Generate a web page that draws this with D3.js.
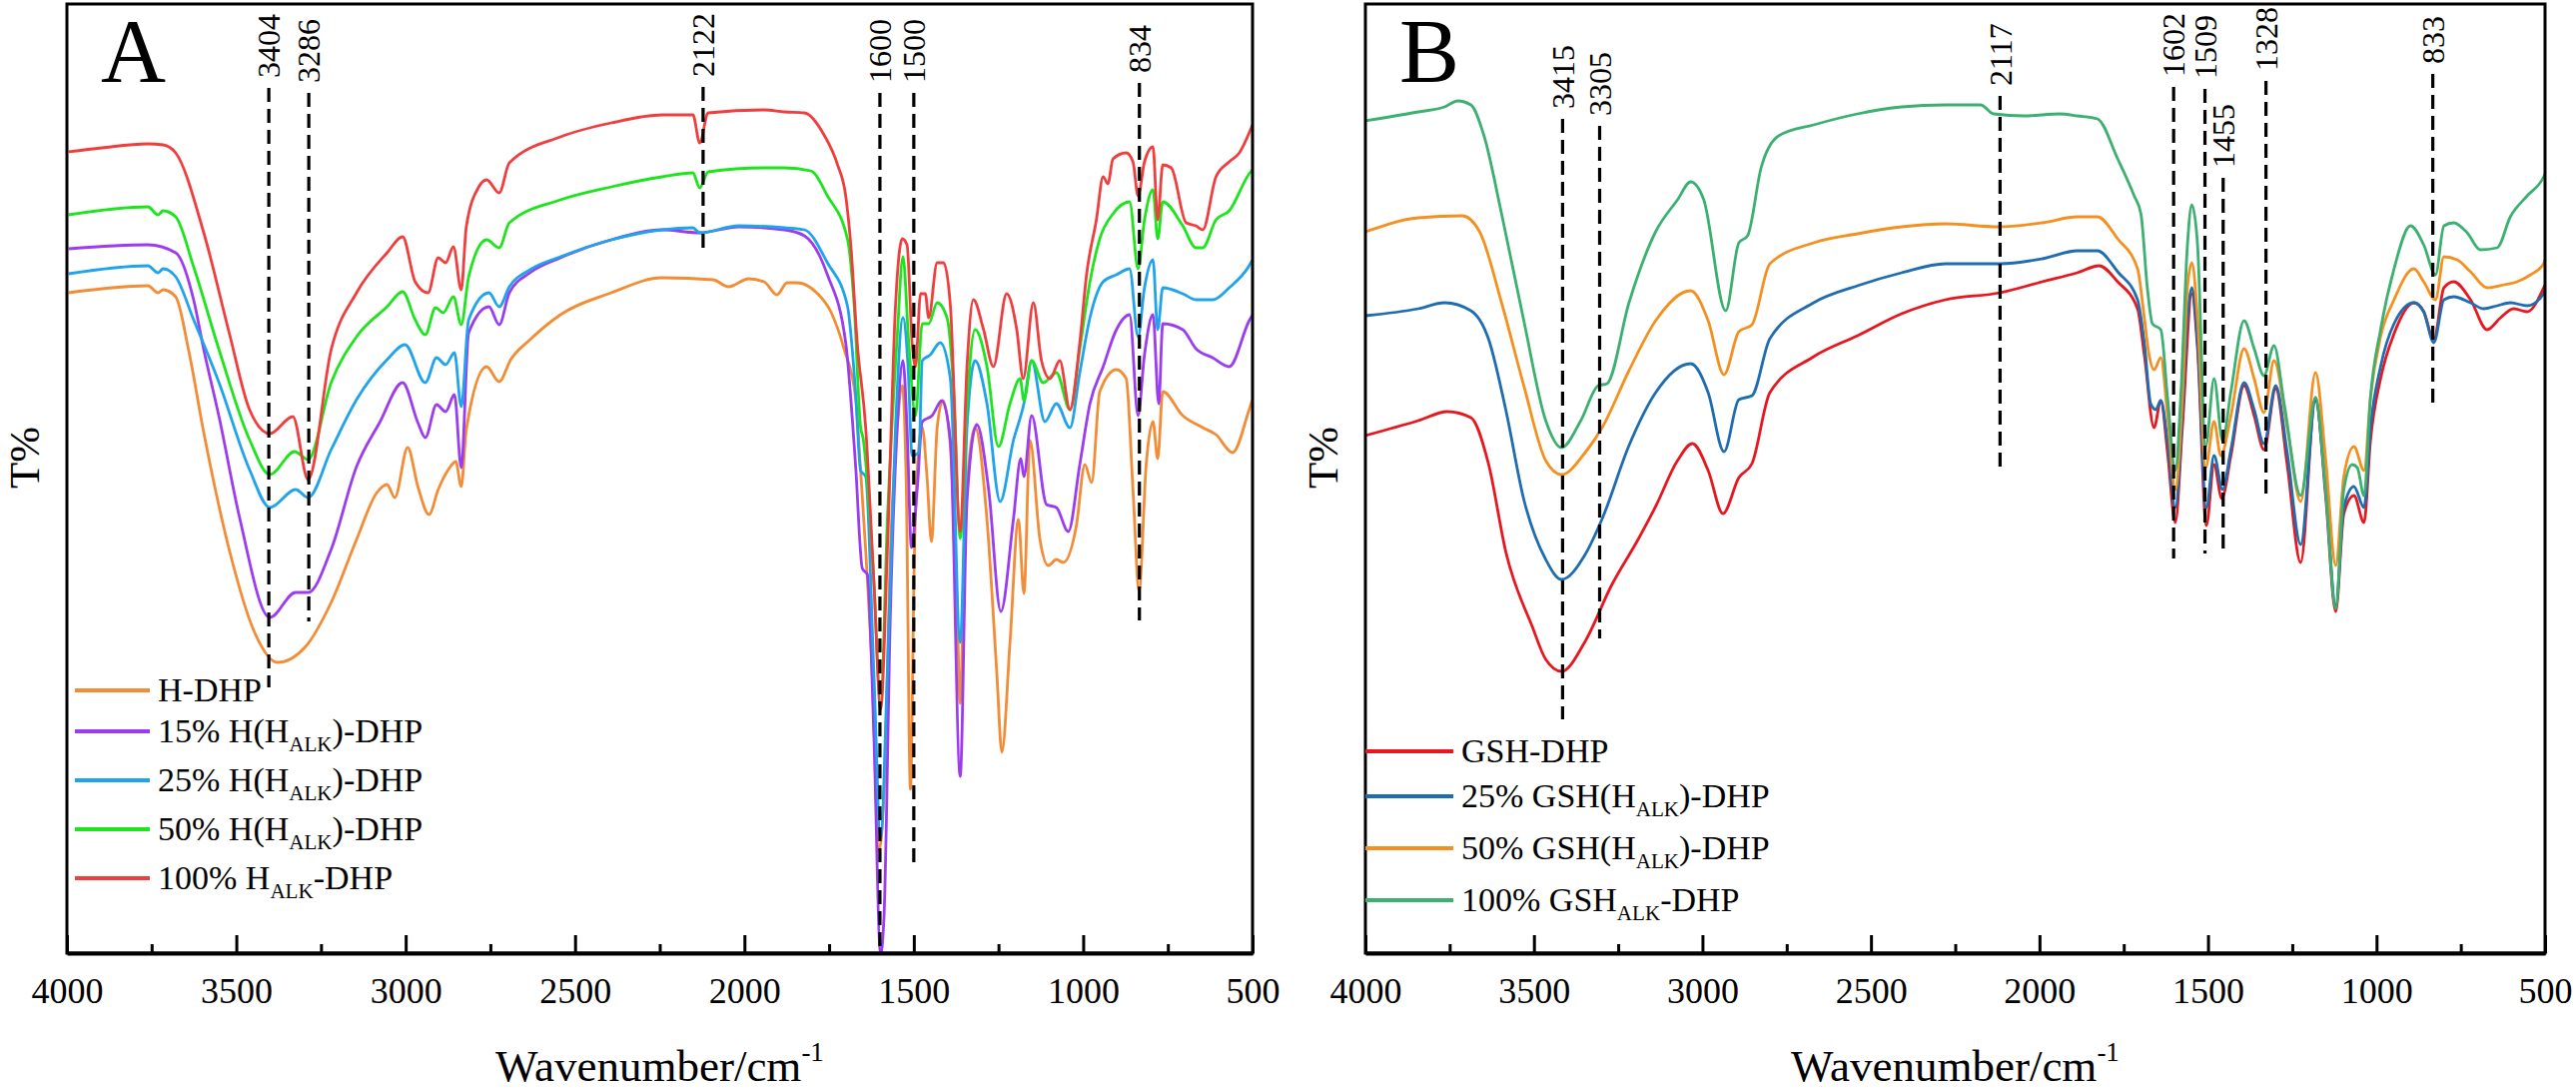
<!DOCTYPE html>
<html>
<head>
<meta charset="utf-8">
<script src="https://cdn.jsdelivr.net/npm/d3@7"></script>
<style>
  body { margin: 0; background: #fff; }
  svg { display: block; }
  text { font-family: "Liberation Serif", "Times New Roman", serif; fill: #000; }
</style>
</head>
<body>
<svg id="chart" width="2579" height="1093"></svg>
<script>
// ---- axis ticks (wavenumber, cm-1) ----
var majorTicks = [4000, 3500, 3000, 2500, 2000, 1500, 1000, 500];
var minorTicks = [3750, 3250, 2750, 2250, 1750, 1250, 750];

// ---- panel A spectra: [wavenumber, T%] ----
var hDHP = [[3995,70.7],[3761,71.4],[3731,70.7],[3716,71.0],[3679,70.3],[3641,65.0],[3596,56.7],[3521,45.0],[3446,36.7],[3378,33.7],[3295,35.3],[3220,39.7],[3145,46.0],[3085,50.7],[3055,51.5],[3032,50.2],[2994,55.2],[2964,51.3],[2931,48.5],[2904,51.0],[2874,53.0],[2852,53.8],[2836,51.3],[2821,57.0],[2761,63.3],[2724,61.8],[2690,64.0],[2633,66.0],[2543,68.5],[2393,70.7],[2243,72.2],[2092,72.0],[2047,71.3],[1987,72.1],[1942,71.8],[1904,70.5],[1874,71.7],[1843,71.7],[1784,70.6],[1745,68.8],[1706,65.1],[1672,60.2],[1657,52.9],[1642,44.9],[1623,32.7],[1603,14.9],[1588,20.4],[1569,44.9],[1549,57.2],[1534,61.4],[1522,51.0],[1510,21.0],[1498,44.9],[1485,55.3],[1475,57.2],[1461,52.3],[1448,45.8],[1431,57.2],[1414,59.9],[1392,55.3],[1372,38.8],[1363,29.6],[1348,48.0],[1319,57.2],[1284,48.0],[1255,32.7],[1240,24.7],[1216,35.7],[1191,48.0],[1175,40.6],[1157,55.9],[1128,46.1],[1103,43.4],[1079,44.0],[1059,43.7],[1020,47.4],[995,53.5],[975,51.7],[951,60.8],[902,63.0],[873,62.1],[853,51.0],[835,40.9],[814,53.5],[794,57.8],[780,54.1],[765,60.8],[706,58.4],[647,57.2],[608,56.5],[559,54.7],[510,59.0],[500,60.0]];
var h15 = [[3995,75.1],[3761,75.5],[3679,74.7],[3626,70.0],[3596,65.0],[3551,58.3],[3491,48.3],[3401,38.2],[3325,40.7],[3288,40.7],[3220,45.0],[3145,53.3],[3077,57.7],[3009,61.7],[2964,57.7],[2942,56.2],[2909,59.5],[2882,58.8],[2856,60.5],[2836,53.2],[2814,66.7],[2754,69.3],[2724,67.5],[2694,70.7],[2633,72.7],[2543,74.2],[2393,76.0],[2243,77.0],[2132,76.7],[2017,77.3],[1882,77.0],[1823,76.4],[1755,72.5],[1701,65.7],[1672,53.5],[1652,43.1],[1637,42.5],[1618,26.6],[1598,4.5],[1588,8.2],[1569,38.8],[1549,57.2],[1532,63.9],[1520,57.2],[1507,45.2],[1490,51.0],[1475,57.8],[1446,58.4],[1417,59.9],[1392,55.9],[1363,22.3],[1343,49.8],[1314,57.5],[1279,51.0],[1243,38.8],[1206,48.0],[1184,54.1],[1175,52.3],[1152,58.4],[1108,49.5],[1079,49.2],[1044,46.8],[1010,53.5],[980,59.6],[941,63.3],[902,67.0],[863,68.5],[838,58.4],[819,64.5],[794,68.5],[777,59.6],[765,67.6],[706,67.0],[667,65.1],[618,64.2],[569,63.3],[510,67.9],[500,68.5]];
var h25 = [[3995,72.6],[3761,73.4],[3731,72.7],[3716,73.1],[3679,72.3],[3626,68.0],[3551,61.7],[3461,53.0],[3401,49.2],[3325,51.0],[3288,50.2],[3220,55.0],[3145,60.0],[3055,64.0],[3002,65.5],[2942,61.7],[2909,64.2],[2882,63.5],[2856,64.7],[2836,59.3],[2814,68.0],[2754,70.7],[2724,69.3],[2694,71.3],[2633,73.0],[2543,74.3],[2393,76.0],[2243,77.0],[2152,77.2],[2132,76.7],[2017,77.4],[1882,77.2],[1823,77.0],[1755,73.7],[1696,69.4],[1672,60.8],[1657,52.9],[1642,52.3],[1618,32.7],[1598,16.2],[1578,32.7],[1554,57.2],[1532,68.2],[1517,63.3],[1505,54.4],[1485,54.7],[1475,63.9],[1451,64.5],[1422,65.7],[1392,62.1],[1363,35.7],[1343,57.2],[1319,63.9],[1284,59.6],[1245,49.8],[1206,55.9],[1175,59.6],[1152,63.9],[1113,57.8],[1079,59.6],[1039,57.2],[1010,62.7],[980,68.2],[941,71.8],[902,72.5],[863,73.1],[838,66.3],[819,71.2],[794,74.0],[780,67.0],[765,71.2],[706,70.6],[667,70.0],[618,70.0],[569,71.2],[510,73.4],[500,74.0]];
var h50 = [[3995,78.5],[3761,79.3],[3731,78.5],[3716,78.9],[3679,78.3],[3626,73.3],[3551,65.0],[3461,56.0],[3401,52.5],[3328,54.8],[3288,54.0],[3220,61.7],[3145,66.3],[3055,69.3],[3009,70.8],[2972,68.0],[2942,66.5],[2912,69.2],[2889,68.7],[2859,70.3],[2836,67.5],[2814,72.3],[2761,76.0],[2724,75.2],[2694,77.7],[2543,80.0],[2393,81.3],[2243,82.3],[2152,82.7],[2132,81.2],[2107,82.8],[1942,83.2],[1882,83.2],[1804,82.9],[1755,80.4],[1696,76.1],[1676,69.4],[1657,57.2],[1650,56.2],[1618,41.9],[1598,29.6],[1578,48.0],[1549,66.3],[1532,74.3],[1515,65.7],[1495,58.4],[1475,67.6],[1456,67.6],[1431,69.7],[1402,68.2],[1382,60.8],[1363,46.1],[1343,59.6],[1319,67.0],[1284,63.3],[1250,55.3],[1216,59.6],[1186,62.1],[1175,59.9],[1152,63.9],[1118,61.7],[1079,62.7],[1039,59.0],[1010,65.1],[980,71.8],[951,76.1],[912,78.6],[863,79.8],[838,73.1],[819,78.0],[794,81.0],[780,76.1],[765,79.8],[706,77.4],[667,75.2],[647,75.2],[608,78.0],[569,78.9],[510,82.6],[500,83.0]];
var h100 = [[3995,84.8],[3897,85.2],[3761,85.6],[3716,85.5],[3679,84.7],[3596,76.7],[3521,66.7],[3461,59.0],[3401,56.6],[3333,58.3],[3288,52.0],[3220,65.0],[3145,70.7],[3055,74.7],[3009,76.3],[2972,71.8],[2934,70.7],[2904,74.2],[2882,73.7],[2859,75.3],[2836,71.0],[2821,77.3],[2784,81.3],[2761,82.0],[2724,80.7],[2694,83.7],[2543,86.3],[2393,87.7],[2243,88.5],[2152,88.5],[2132,85.7],[2107,88.7],[1942,89.0],[1882,88.8],[1823,88.7],[1765,86.5],[1725,83.5],[1701,80.4],[1686,75.5],[1667,65.7],[1642,57.2],[1618,41.9],[1598,29.0],[1578,44.9],[1554,69.4],[1534,76.1],[1520,75.5],[1505,65.7],[1495,63.3],[1480,70.6],[1466,70.6],[1456,68.2],[1431,73.7],[1412,73.7],[1392,69.4],[1363,46.8],[1343,63.3],[1324,70.0],[1294,67.0],[1265,63.3],[1226,70.6],[1196,67.0],[1177,62.1],[1147,69.7],[1123,63.9],[1098,62.1],[1069,63.9],[1039,59.0],[1010,65.7],[990,72.5],[961,78.0],[941,82.3],[927,81.6],[912,84.1],[873,84.7],[853,83.8],[838,80.4],[819,83.8],[794,85.3],[780,78.0],[765,83.5],[740,83.2],[696,77.7],[667,77.4],[647,77.0],[608,82.3],[569,83.8],[539,84.7],[505,87.1],[500,87.5]];

// ---- panel B spectra: [wavenumber, T%] ----
var gshDHP = [[4000,56.4],[3843,57.9],[3757,58.8],[3687,58.2],[3635,53.6],[3583,44.7],[3504,37.2],[3465,34.0],[3418,32.8],[3348,35.8],[3270,41.4],[3191,46.0],[3139,49.3],[3074,53.9],[3030,55.6],[2983,52.9],[2939,48.6],[2892,52.2],[2853,53.6],[2800,60.7],[2670,64.3],[2540,66.4],[2409,68.6],[2279,70.0],[2117,70.7],[1992,71.8],[1888,72.7],[1823,73.4],[1768,71.8],[1709,69.1],[1689,64.5],[1660,57.2],[1640,59.9],[1620,54.7],[1597,47.7],[1576,57.2],[1548,70.6],[1531,65.1],[1505,47.4],[1482,53.5],[1459,50.1],[1432,54.4],[1393,61.4],[1363,58.4],[1334,55.0],[1299,61.1],[1265,53.5],[1225,43.7],[1181,60.2],[1151,50.4],[1121,38.8],[1097,48.6],[1067,50.4],[1037,47.7],[1018,55.9],[988,62.1],[948,66.6],[889,69.7],[860,68.8],[830,66.0],[800,71.2],[771,71.8],[721,70.0],[672,67.0],[632,68.2],[593,69.1],[553,68.8],[504,71.2],[500,71.5]];
var gsh25 = [[4000,68.4],[3843,69.1],[3765,69.7],[3687,68.9],[3635,66.1],[3583,58.9],[3530,50.0],[3465,44.0],[3418,42.0],[3348,44.5],[3296,48.2],[3218,55.4],[3139,60.7],[3035,63.6],[2983,60.7],[2936,54.8],[2892,60.0],[2853,60.4],[2800,66.1],[2670,69.7],[2540,71.4],[2409,72.7],[2279,73.6],[2117,73.6],[1992,74.1],[1887,74.9],[1828,74.9],[1768,72.8],[1709,70.0],[1689,65.7],[1670,59.6],[1655,59.0],[1640,59.9],[1620,55.9],[1597,49.2],[1576,58.4],[1561,68.2],[1548,71.2],[1531,65.7],[1505,49.2],[1482,54.4],[1457,51.0],[1432,55.0],[1393,61.7],[1363,59.0],[1334,55.6],[1299,61.4],[1265,54.7],[1225,45.5],[1181,59.9],[1151,51.0],[1121,39.4],[1097,49.2],[1067,51.3],[1037,49.2],[1018,57.2],[988,63.3],[948,67.6],[889,69.7],[860,68.8],[830,65.7],[800,70.0],[771,70.3],[721,69.7],[682,69.1],[642,69.4],[603,69.7],[553,69.4],[504,70.6],[500,71.0]];
var gsh50 = [[4000,76.8],[3843,78.2],[3713,78.4],[3661,76.8],[3596,69.7],[3530,61.4],[3465,53.9],[3418,52.5],[3348,54.7],[3296,57.3],[3218,62.9],[3139,67.9],[3035,70.9],[2983,67.9],[2936,62.5],[2892,66.8],[2853,67.5],[2800,73.6],[2670,75.7],[2540,76.6],[2409,77.3],[2279,77.6],[2123,77.3],[1992,77.7],[1887,78.3],[1828,78.3],[1768,76.1],[1709,73.1],[1689,68.2],[1675,64.5],[1660,63.0],[1640,64.2],[1620,58.4],[1597,51.0],[1576,60.2],[1561,71.2],[1548,73.7],[1531,68.2],[1507,53.2],[1482,57.8],[1462,54.4],[1432,58.4],[1393,65.1],[1363,62.1],[1334,58.7],[1304,63.9],[1265,57.2],[1225,49.8],[1181,62.7],[1151,54.1],[1121,43.4],[1097,52.3],[1067,55.3],[1037,52.9],[1018,60.2],[988,66.3],[948,70.0],[889,73.1],[860,71.8],[825,70.0],[800,74.3],[761,74.0],[721,72.8],[672,71.2],[622,71.5],[583,71.8],[543,72.5],[504,73.6],[500,74.0]];
var gsh100 = [[4000,87.9],[3843,88.8],[3765,89.3],[3726,89.9],[3687,89.5],[3648,86.4],[3596,78.6],[3530,67.9],[3465,57.9],[3418,55.2],[3361,57.9],[3309,61.4],[3283,61.6],[3218,69.7],[3139,76.8],[3074,80.0],[3035,81.8],[2996,80.0],[2931,68.9],[2892,75.7],[2866,76.4],[2826,83.2],[2774,86.4],[2670,87.5],[2540,88.6],[2409,89.3],[2279,89.5],[2175,89.5],[2136,88.6],[2044,88.4],[1940,88.6],[1887,88.4],[1828,88.1],[1768,84.1],[1719,80.4],[1699,78.6],[1680,71.2],[1665,67.6],[1640,67.0],[1620,60.2],[1597,52.9],[1581,60.2],[1561,75.5],[1548,79.5],[1531,75.5],[1507,55.3],[1482,62.1],[1457,55.9],[1432,60.8],[1393,67.9],[1363,65.1],[1334,62.4],[1304,65.4],[1274,59.6],[1225,50.4],[1181,60.2],[1151,51.0],[1121,39.1],[1097,51.0],[1072,53.5],[1057,53.2],[1037,50.4],[1018,60.2],[988,67.0],[948,73.1],[899,77.4],[860,75.5],[825,72.5],[800,77.4],[771,77.7],[731,76.7],[692,75.0],[642,75.2],[603,78.3],[553,80.4],[504,82.3],[500,82.6]];

// ---- series names (subscript marked with _{ }) and colours ----
var namesA = ["H-DHP", "15% H(H_{ALK})-DHP", "25% H(H_{ALK})-DHP", "50% H(H_{ALK})-DHP", "100% H_{ALK}-DHP"];
var colorsA = ["#f28c36", "#9b3cf0", "#1ea3ec", "#1ee41e", "#f03e3e"];
var namesB = ["GSH-DHP", "25% GSH(H_{ALK})-DHP", "50% GSH(H_{ALK})-DHP", "100% GSH_{ALK}-DHP"];
var colorsB = ["#e8161e", "#1f6db0", "#f39020", "#3cb070"];

// ---- marked bands: wavenumber, where the dashed line ends (T%), where its label starts (T%) ----
var peaksA = [3404, 3286, 2122, 1600, 1500, 834];
var peakEndA = [31.2, 37.8, 74.7, 4.6, 13.4, 37.9];
var peakLabelA = [92.2, 91.7, 92.3, 91.7, 91.7, 92.7];
var peaksB = [3415, 3305, 2117, 1602, 1509, 1455, 1328, 833];
var peakEndB = [28.0, 36.1, 52.9, 44.1, 44.6, 44.9, 50.4, 59.0];
var peakLabelB = [89.1, 88.4, 91.4, 92.3, 92.1, 83.2, 92.9, 93.6];

var svg = d3.select("#chart");
var plotTop = 4, plotBottom = 954;

var panels = [
  { id: "A", left: 67, right: 1254, data: [hDHP, h15, h25, h50, h100], names: namesA, colors: colorsA,
    peaks: peaksA, peakEnd: peakEndA, peakLabel: peakLabelA,
    legendX: 75, legendLen: 75, legendRows: [691, 732, 781, 830, 879] },
  { id: "B", left: 1367, right: 2548, data: [gshDHP, gsh25, gsh50, gsh100], names: namesB, colors: colorsB,
    peaks: peaksB, peakEnd: peakEndB, peakLabel: peakLabelB,
    legendX: 1367, legendLen: 88, legendRows: [752, 797, 849, 901] }
];

// writes "text_{sub}text" into a text element with a lowered, smaller subscript
function richText(sel, str, size) {
  var parts = str.split(/_\{([^}]*)\}/);
  parts.forEach(function(p, i) {
    if (!p) return;
    if (i % 2 == 1) {
      sel.append("tspan").attr("font-size", size * 0.62).attr("dy", 9).text(p);
    } else {
      sel.append("tspan").attr("dy", i > 0 ? -9 : 0).text(p);
    }
  });
}

panels.forEach(function(p, pi) {
  var x = d3.scaleLinear().domain([4000, 500]).range([p.left, p.right]);
  var y = d3.scaleLinear().domain([4.6, 99.6]).range([plotBottom, plotTop]);
  var g = svg.append("g").attr("class", "panel-" + p.id);

  g.append("clipPath").attr("id", "clip" + pi)
    .append("rect").attr("x", p.left).attr("y", plotTop).attr("width", p.right - p.left).attr("height", plotBottom - plotTop);

  var line = d3.line()
    .x(function(d) { return x(d[0]); })
    .y(function(d) { return y(d[1]); })
    .curve(d3.curveMonotoneX);

  g.append("g").attr("clip-path", "url(#clip" + pi + ")")
    .selectAll("path")
    .data(p.data)
    .enter().append("path")
    .attr("d", line)
    .attr("fill", "none")
    .attr("stroke", function(d, i) { return p.colors[i]; })
    .attr("stroke-width", 2.8)
    .attr("stroke-linejoin", "round");

  // dashed band markers
  var pk = g.append("g").attr("class", "peaks");
  pk.selectAll("line").data(p.peaks).enter().append("line")
    .attr("x1", function(d) { return x(d); })
    .attr("x2", function(d) { return x(d); })
    .attr("y1", function(d, i) { return y(p.peakLabel[i]) + 10; })
    .attr("y2", function(d, i) { return y(p.peakEnd[i]); })
    .attr("stroke", "#000")
    .attr("stroke-width", 3.2)
    .attr("stroke-dasharray", "14,7");
  pk.selectAll("text").data(p.peaks).enter().append("text")
    .attr("transform", function(d, i) { return "translate(" + x(d) + "," + y(p.peakLabel[i]) + ") rotate(-90)"; })
    .attr("dy", "0.35em")
    .attr("font-size", 32)
    .text(function(d) { return d; });

  // frame
  g.append("rect")
    .attr("x", p.left).attr("y", plotTop)
    .attr("width", p.right - p.left).attr("height", plotBottom - plotTop)
    .attr("fill", "none").attr("stroke", "#000").attr("stroke-width", 3);

  // bottom axis, ticks pointing inward
  var ax = g.append("g").attr("transform", "translate(0," + plotBottom + ")")
    .call(d3.axisBottom(x).tickValues(majorTicks).tickSize(-18).tickSizeOuter(0).tickPadding(24).tickFormat(d3.format("d")));
  ax.select(".domain").attr("stroke-width", 4);
  ax.selectAll(".tick line").attr("stroke-width", 3);
  ax.selectAll("text").attr("font-size", 36);
  var axm = g.append("g").attr("transform", "translate(0," + plotBottom + ")")
    .call(d3.axisBottom(x).tickValues(minorTicks).tickSize(-9).tickSizeOuter(0).tickFormat(""));
  axm.select(".domain").remove();
  axm.selectAll(".tick line").attr("stroke-width", 3);

  // axis titles
  var t = g.append("text")
    .attr("x", (p.left + p.right) / 2)
    .attr("y", 1082)
    .attr("text-anchor", "middle")
    .attr("font-size", 45);
  t.append("tspan").text("Wavenumber/cm");
  t.append("tspan").attr("font-size", 27).attr("dy", -20).text("-1");

  g.append("text")
    .attr("transform", "translate(" + (p.left - 43) + ",458) rotate(-90)")
    .attr("text-anchor", "middle")
    .attr("dy", "0.35em")
    .attr("font-size", 43)
    .text("T%");

  // panel letter
  g.append("text")
    .attr("x", p.left + 34).attr("y", 82)
    .attr("font-size", 90)
    .text(p.id);

  // legend
  var lg = g.append("g").attr("class", "legend");
  p.names.forEach(function(name, i) {
    var ly = p.legendRows[i];
    lg.append("line")
      .attr("x1", p.legendX).attr("x2", p.legendX + p.legendLen)
      .attr("y1", ly).attr("y2", ly)
      .attr("stroke", p.colors[i]).attr("stroke-width", 4);
    var tx = lg.append("text")
      .attr("x", p.legendX + p.legendLen + 8)
      .attr("y", ly + 11)
      .attr("font-size", 34);
    richText(tx, name, 34);
  });
});
</script>
</body>
</html>
